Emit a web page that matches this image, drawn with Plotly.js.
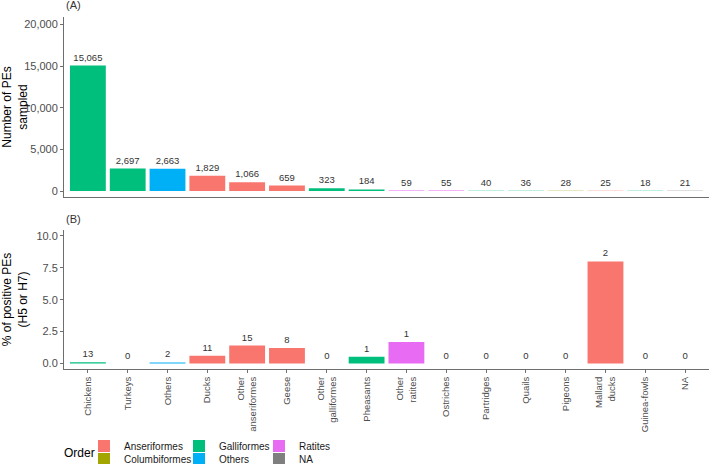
<!DOCTYPE html>
<html>
<head>
<meta charset="utf-8">
<script src="https://cdn.plot.ly/plotly-3.0.1.min.js"></script>
<style>html,body{margin:0;padding:0;background:#fff;}#chart{width:709px;height:464px;}</style>
</head>
<body>
<div id="chart"></div>
<script>
// ---- data ----
const categories = ["Chickens","Turkeys","Others","Ducks","Other anseriformes","Geese","Other galliformes","Pheasants","Other ratites","Ostriches","Partridges","Quails","Pigeons","Mallard ducks","Guinea-fowls","NA"];
const tickLabels = ["Chickens","Turkeys","Others","Ducks","Other<br>anseriformes","Geese","Other<br>galliformes","Pheasants","Other<br>ratites","Ostriches","Partridges","Quails","Pigeons","Mallard<br>ducks","Guinea-fowls","NA"];
const orderOfCategory = ["Galliformes","Galliformes","Others","Anseriformes","Anseriformes","Anseriformes","Galliformes","Galliformes","Ratites","Ratites","Galliformes","Galliformes","Columbiformes","Anseriformes","Galliformes","NA"];
const sampledPEs = [15065,2697,2663,1829,1066,659,323,184,59,55,40,36,28,25,18,21];
const positivePEs = [13,0,2,11,15,8,0,1,1,0,0,0,0,2,0,0];
const pctPositive = [0.09,0,0.08,0.60,1.41,1.21,0,0.54,1.69,0,0,0,0,8.0,0,0];
const orderLevels = ["Anseriformes","Columbiformes","Galliformes","Others","Ratites","NA"];
const orderColors = ["#F8766D","#A3A500","#00BF7D","#00B0F6","#E76BF3","#7F7F7F"];
const topTicks = [0,5000,10000,15000,20000];
const bottomTicks = [0,2.5,5,7.5,10];

// ---- layout helpers ----
const FONT = "Liberation Sans, Arial, sans-serif";
const legendIds = ["legend","legend2","legend3","legend4","legend5","legend6"];
// column-wise legend: col1 Anser/Columb, col2 Galli/Others, col3 Ratites/NA
const colX = [0.031, 0.1783, 0.3023];
const rowY = [-0.2188, -0.2557];
const legendPos = [[colX[0],rowY[0]],[colX[0],rowY[1]],[colX[1],rowY[0]],[colX[1],rowY[1]],[colX[2],rowY[0]],[colX[2],rowY[1]]];

const traces = [];
orderLevels.forEach((ord, k) => {
  const idx = categories.map((c,i)=>i).filter(i => orderOfCategory[i] === ord);
  const xs = idx.map(i => categories[i]);
  traces.push({
    type: "bar", name: ord, legend: legendIds[k], legendgroup: ord,
    x: xs, y: idx.map(i => sampledPEs[i]),
    xaxis: "x2", yaxis: "y2", width: 0.9,
    marker: {color: orderColors[k], line: {width: 0}},
    texttemplate: "%{y:,}", textposition: "outside", cliponaxis: false,
    constraintext: "none",
    outsidetextfont: {family: FONT, size: 9.5, color: "#333333"},
    hoverinfo: "x+y"
  });
  traces.push({
    type: "bar", name: ord, legendgroup: ord, showlegend: false,
    x: xs, y: idx.map(i => pctPositive[i]), text: idx.map(i => String(positivePEs[i])),
    xaxis: "x", yaxis: "y", width: 0.9,
    marker: {color: orderColors[k], line: {width: 0}},
    texttemplate: "%{text}", textposition: "outside", cliponaxis: false,
    constraintext: "none",
    outsidetextfont: {family: FONT, size: 9.5, color: "#333333"},
    hoverinfo: "x+y"
  });
});

const axisLine = {showline: true, linecolor: "#6e6e6e", linewidth: 1, zeroline: false, showgrid: false};
const layout = {
  width: 709, height: 464,
  margin: {l: 64, r: 0, t: 17, b: 95, autoexpand: false},
  paper_bgcolor: "#ffffff", plot_bgcolor: "#ffffff",
  font: {family: FONT, color: "#333333"},
  barmode: "overlay",
  showlegend: true,
  xaxis: Object.assign({}, axisLine, {
    domain: [0,1], anchor: "y", type: "category",
    categoryorder: "array", categoryarray: categories,
    range: [-0.6, 15.6],
    tickmode: "array", tickvals: categories, ticktext: tickLabels,
    tickangle: -90, ticks: "outside", ticklen: 3, tickcolor: "#6e6e6e",
    tickfont: {family: FONT, size: 9.5, color: "#4D4D4D"}
  }),
  xaxis2: Object.assign({}, axisLine, {
    domain: [0,1], anchor: "y2", type: "category", matches: "x",
    categoryorder: "array", categoryarray: categories,
    range: [-0.6, 15.6], showticklabels: false, ticks: ""
  }),
  yaxis: Object.assign({}, axisLine, {
    domain: [0, 0.3949], anchor: "x", range: [-0.43, 10.47],
    tickmode: "array", tickvals: bottomTicks, ticktext: bottomTicks.map(v => v.toFixed(1)),
    ticks: "outside", ticklen: 3, tickcolor: "#6e6e6e",
    tickfont: {family: FONT, size: 11, color: "#4D4D4D"},
    title: {text: "% of positive PEs<br>(H5 or H7)", font: {family: FONT, size: 12, color: "#000000"}, standoff: 6}
  }),
  yaxis2: Object.assign({}, axisLine, {
    domain: [0.4886, 1], anchor: "x2", range: [-720, 20900],
    tickmode: "array", tickvals: topTicks, ticktext: topTicks.map(v => v.toLocaleString("en-US")),
    ticks: "outside", ticklen: 3, tickcolor: "#6e6e6e",
    tickfont: {family: FONT, size: 11, color: "#4D4D4D"},
    title: {text: "Number of PEs<br>sampled", font: {family: FONT, size: 12, color: "#000000"}, standoff: 6}
  }),
  annotations: [
    {text: "(A)", xref: "paper", yref: "paper", x: 0, y: 1.034, xanchor: "left", yanchor: "middle", showarrow: false, font: {family: FONT, size: 11, color: "#333333"}},
    {text: "(B)", xref: "paper", yref: "paper", x: 0, y: 0.426, xanchor: "left", yanchor: "middle", showarrow: false, font: {family: FONT, size: 11, color: "#333333"}},
    {text: "Order", xref: "paper", yref: "paper", x: 0.0, xshift: -2, y: -0.2386, xanchor: "left", yanchor: "middle", showarrow: false, font: {family: FONT, size: 12, color: "#000000"}}
  ]
};
legendIds.forEach((id, k) => {
  layout[id] = {
    x: legendPos[k][0], y: legendPos[k][1], xanchor: "left", yanchor: "middle",
    orientation: "h", bgcolor: "rgba(0,0,0,0)", borderwidth: 0,
    font: {family: FONT, size: 10, color: "#1a1a1a"}, itemclick: false, itemdoubleclick: false
  };
});

Plotly.newPlot("chart", traces, layout, {displayModeBar: false, staticPlot: true});
</script>
</body>
</html>
